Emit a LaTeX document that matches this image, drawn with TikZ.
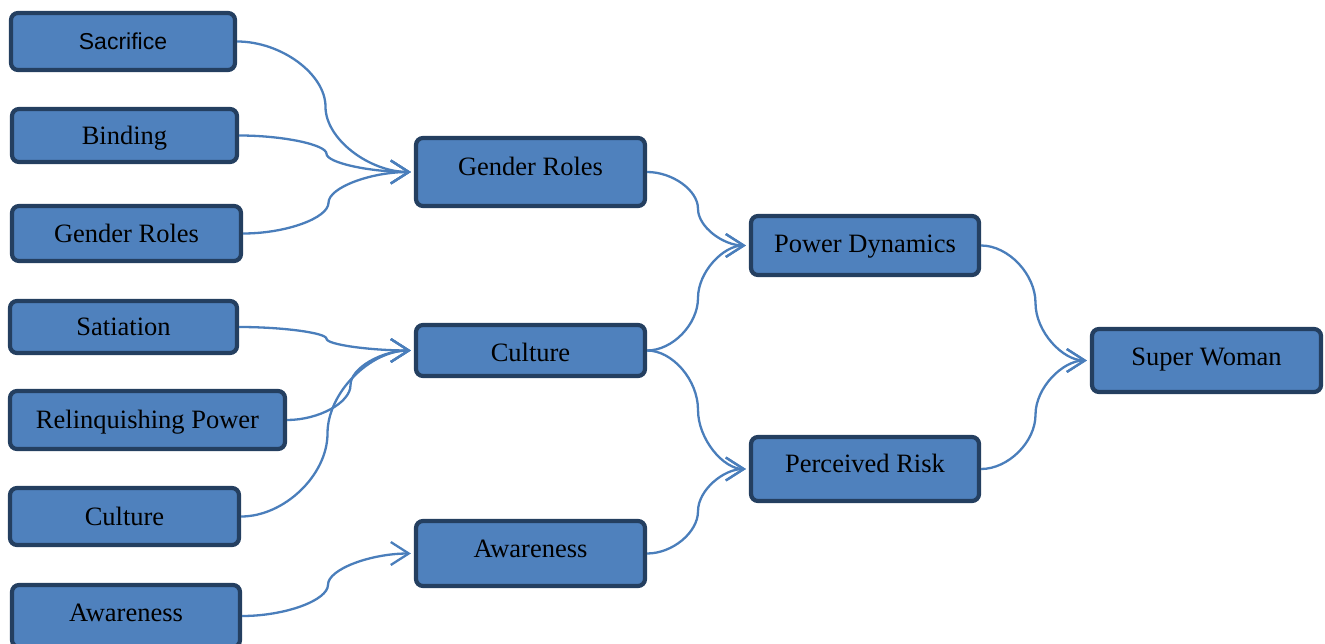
\documentclass[tikz,border=0pt]{standalone}
\usepackage{fontspec}
\setmainfont{Liberation Serif}
\newfontfamily\arialfont{Liberation Sans}
\usetikzlibrary{arrows.meta,calc}
\definecolor{boxfill}{HTML}{4F81BD}
\definecolor{boxline}{HTML}{243F60}
\definecolor{connline}{HTML}{4A7EBB}
\begin{document}
\begin{tikzpicture}[x=1pt,y=-1pt,
  box/.style={draw=boxline, fill=boxfill, line width=4.2pt, rounded corners=7pt,
    inner sep=0pt, text height=17.5pt, text depth=0pt,
    font=\fontsize{26.5pt}{30pt}\selectfont},
  conn/.style={draw=connline, line width=2.3pt,
    -{Straight Barb[length=18pt,width=23pt]}, shorten >=3pt,
    to path={let \p1=(\tikztostart), \p2=(\tikztotarget) in
      .. controls ({0.75*\x1+0.25*\x2},\y1) and ({0.5*\x1+0.5*\x2},{0.75*\y1+0.25*\y2})
      .. ({0.5*\x1+0.5*\x2},{0.5*\y1+0.5*\y2})
      .. controls ({0.5*\x1+0.5*\x2},{0.25*\y1+0.75*\y2}) and ({0.25*\x1+0.75*\x2},\y2)
      .. (\tikztotarget)}}]
\useasboundingbox (0,0) rectangle (1325,644);
% left column
\node[box, minimum width=224pt, minimum height=57pt, text height=16.5pt,
  font=\arialfont\fontsize{23pt}{27pt}\selectfont] (sac) at (123,41.5) {Sacrifice};
\node[box, minimum width=225pt, minimum height=53pt] (bind) at (124.5,135.5) {Binding};
\node[box, minimum width=229pt, minimum height=55pt] (gl) at (126.5,233.5) {Gender Roles};
\node[box, minimum width=227pt, minimum height=52pt] (sat) at (123.5,327) {Satiation};
\node[box, minimum width=275pt, minimum height=58pt] (rel) at (147.5,420) {Relinquishing Power};
\node[box, minimum width=229pt, minimum height=57pt] (cl) at (124.5,516.5) {Culture};
\node[box, minimum width=228pt, minimum height=62pt, text depth=6pt] (al) at (126,616) {Awareness};
% middle column
\node[box, minimum width=229pt, minimum height=68pt, text depth=11pt] (gm) at (530.5,172) {Gender Roles};
\node[box, minimum width=229pt, minimum height=51pt, text height=21.5pt] (cm) at (530.5,350.5) {Culture};
\node[box, minimum width=229pt, minimum height=65pt, text depth=9pt] (am) at (530.5,553.5) {Awareness};
% third column
\node[box, minimum width=228pt, minimum height=59pt, text depth=4pt] (pd) at (865,245.5) {Power Dynamics};
\node[box, minimum width=228pt, minimum height=64pt, text depth=10pt] (pr) at (865,469) {Perceived Risk};
% final
\node[box, minimum width=229pt, minimum height=63pt, text depth=8pt] (sw) at (1206.5,360.5) {Super Woman};
% connectors
\draw[conn] (sac.east) to (gm.west);
\draw[conn] (bind.east) to (gm.west);
\draw[conn] (gl.east) to (gm.west);
\draw[conn] (sat.east) to (cm.west);
\draw[conn] (rel.east) to (cm.west);
\draw[conn] (cl.east) to (cm.west);
\draw[conn] (al.east) to (am.west);
\draw[conn] (gm.east) to (pd.west);
\draw[conn] (cm.east) to (pd.west);
\draw[conn] (cm.east) to (pr.west);
\draw[conn] (am.east) to (pr.west);
\draw[conn] (pd.east) to (sw.west);
\draw[conn] (pr.east) to (sw.west);
\end{tikzpicture}
\end{document}
